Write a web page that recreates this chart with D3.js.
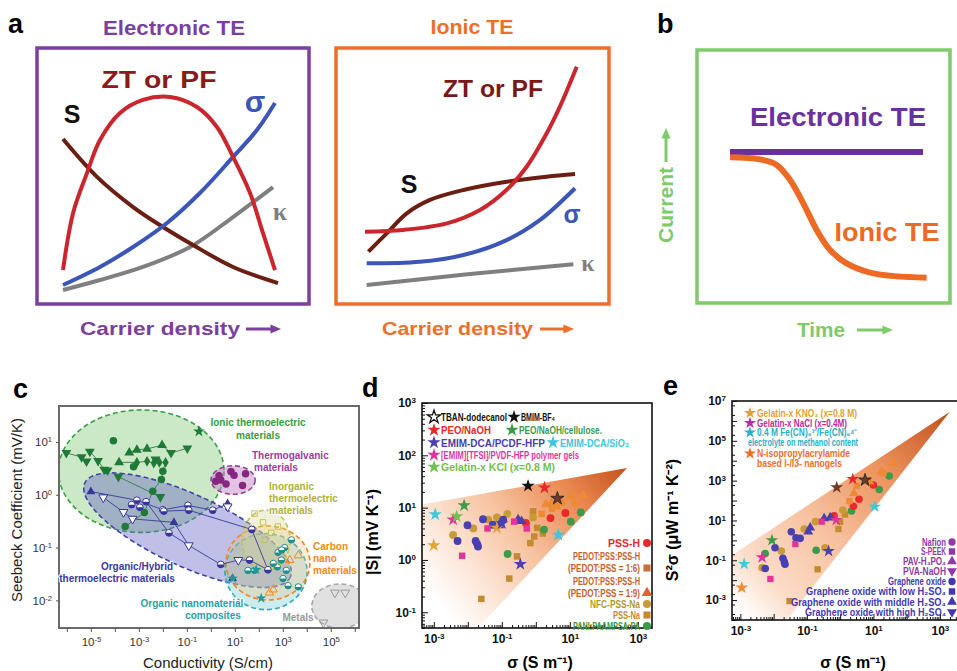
<!DOCTYPE html>
<html>
<head>
<meta charset="utf-8">
<title>Electronic vs ionic thermoelectrics</title>
<script src="https://cdn.jsdelivr.net/npm/d3@7/dist/d3.min.js"></script>
<style>
  body { margin: 0; background: #fff; }
  svg { font-family: "Liberation Sans", Arial, sans-serif; display: block; }
</style>
</head>
<body>
<svg id="fig" width="957" height="671"></svg>
<script>
// ================= data =================
// a: schematic trends against carrier density (box units 0-10)
let aElecZT = [[0,1.04],[0.47,4.01],[1.12,6.1],[1.72,7.81],[2.65,9.22],[3.72,9.9],[4.98,10.05],[6.23,9.53],[7.16,8.49],[7.91,6.93],[8.7,5.05],[9.3,2.97],[9.86,1.04]];
let aElecS = [[0,7.86],[1.58,5.89],[3.26,4.32],[4.65,3.28],[6.05,2.34],[7.91,1.2],[10,0.36]];
let aElecSigma = [[0,0.26],[1.72,1.2],[3.26,2.24],[4.84,3.49],[6.37,5.05],[7.91,6.93],[9.02,8.33],[9.86,9.74]];
let aElecKappa = [[0,0],[1.72,0.52],[3.72,1.2],[5.91,2.24],[7.91,3.8],[9.77,5.36]];
let aIonZT = [[0,3.04],[1.8,3.13],[3.84,3.47],[5.4,4.17],[6.64,5.21],[7.59,6.42],[8.53,8.16],[9.15,9.55],[9.94,11.63]];
let aIonS = [[0.16,2.0],[1.02,2.95],[1.96,3.99],[3.05,4.69],[4.62,5.21],[6.65,5.64],[8.53,5.9],[9.86,6.04]];
let aIonSigma = [[0.08,1.39],[2.58,1.47],[4.62,1.82],[6.65,2.6],[8.22,3.65],[9.86,5.3]];
let aIonKappa = [[0.08,0.26],[4.93,0.83],[9.78,1.34]];

// b: current against time (box units 0-10)
let bElec = [[0,9.85],[9.8,9.85]];
let bIon = [[0,9.44],[1.52,9.28],[2.37,8.85],[3.05,7.69],[3.72,5.9],[4.4,3.85],[5.08,2.31],[5.92,1.28],[7.28,0.51],[9.98,0.18]];

// c: Seebeck coefficient (mV/K) against conductivity (S/cm)
let cIonicDown = [[9.5e-7,6.2],[4.1e-6,5.2],[6.6e-6,4.3],[9.1e-6,6.6],[2e-5,4.4],[3.6e-5,3.0],[5e-5,2.9],[1.4e-4,2.2],[4.9e-3,4.7],[0.022,6.2],[0.105,7.6],[7.9e-3,0.91]];
let cIonicUp = [[1.5e-4,4.1],[4e-4,6.3],[8.3e-4,7.1],[2.2e-3,7.4],[9.3e-3,8.7]];
let cIonicDiamond = [[8.3e-4,4.1],[2.2e-3,4.3],[4.2e-3,4.0],[7.2e-3,4.1],[0.013,4.1]];
let cIonicCircle = [[8.7e-5,10.5],[6e-4,3.4],[0.01,2.8],[8.7e-3,1.95],[3.8e-3,1.17],[1.7e-3,0.46],[2.7e-4,0.25]];
let cIonicStar = [[0.32,15.8]];
let cIonicTraces = [
  [[9.5e-7,6.2],[4.1e-6,5.2],[6.6e-6,4.3]],
  [[9.1e-6,6.6],[2e-5,4.4],[3.6e-5,3.0],[5e-5,2.9]],
  [[4e-4,6.3],[8.3e-4,7.1],[2.2e-3,7.4],[9.3e-3,8.7],[0.022,6.2],[0.105,7.6]],
  [[1.5e-4,4.1],[8.3e-4,4.1],[2.2e-3,4.3],[4.2e-3,4.0],[7.2e-3,4.1],[0.013,4.1]],
  [[0.013,4.1],[0.01,2.8],[8.7e-3,1.95],[3.8e-3,1.17],[1.7e-3,0.46],[2.7e-4,0.25]],
  [[1.4e-4,2.2],[7.9e-3,0.91]]
];
let cOrganicUp = [[1e-5,1.15],[0.029,0.3],[5,0.68],[8.1,0.026]];
let cOrganicDown = [[3.3e-5,0.89],[2.3e-4,0.47],[5.5e-4,0.35],[0.12,0.11],[14,0.058],[5,0.6]];
let cOrganicCircle = [[8.3e-4,0.79],[2e-3,0.74],[0.01,0.52],[0.11,0.63],[0.011,0.49],[0.12,0.51],[1.2,0.51],[2.6,0.048],[41,0.058],[240,0.038],[0.018,0.19],[51,0.22],[5e-4,0.65],[1.1e-3,0.58]];
let cOrganicTraces = [
  [[1e-5,1.15],[8.3e-4,0.79],[0.01,0.52],[0.11,0.63],[1.2,0.51],[5,0.68]],
  [[3.3e-5,0.89],[2.3e-4,0.47],[5.5e-4,0.35],[0.029,0.3],[0.12,0.11]],
  [[2e-3,0.74],[0.018,0.19],[0.12,0.11],[2.6,0.048],[14,0.058],[41,0.058],[240,0.038]],
  [[0.011,0.49],[0.12,0.51],[51,0.22],[240,0.038]]
];
let cGalvanic = [[2.6,1.9],[6.9,2.75],[9.3,2.35],[28,2.5],[21,1.5],[4.3,1.6],[1.6,1.8],[2.2,2.3]];
let cInorganic = [[66,0.44],[150,0.30],[330,0.19],[175,0.14],[630,0.25]];
let cCarbon = [[4400,0.071],[1950,0.058],[280,0.014],[400,0.016]];
let cComposite = [[630,0.081],[870,0.058],[590,0.043],[1400,0.037],[1020,0.026],[1660,0.019],[4400,0.018],[2300,0.14],[1200,0.10],[35,0.037],[66,0.037],[400,0.05],[900,0.09]];
let cCompositeStar = [[8.1,0.026],[126,0.011],[78,0.038]];
let cMetals = [[1.5e5,0.014],[4e5,0.014],[4.9e4,0.0038]];
// regions: centre [S/cm, mV/K], half widths in decades, tilt in degrees
let cRegionNames = ["ionic","organic","galvanic","composite","carbon","inorganic","metals"];
let cRegionCentre = [[1.26e-3,2.8],[0.107,0.214],[8.5,1.9],[200,0.035],[240,0.051],[200,0.138],[2.4e5,0.0078]];
let cRegionHalf = [[3.45,1.16],[4.71,0.68],[0.92,0.27],[1.71,0.72],[1.75,0.70],[1.0,0.57],[1.17,0.42]];
let cRegionTilt = [0,24.6,0,0,0,0,0];
let cXExp = d3.range(-6, 7), cXLabel = [-5,-3,-1,1,3,5];
let cYExp = [-2,-1,0,1], cYLabel = [-2,-1,0,1];

// d: |S| (mV/K) against sigma (S/m)
let dTBAN = [[4.3,15]];
let dBMIM = [[0.59,26]];
let dPEO = [[1.8,24]];
let dPEOCell = [[0.0078,11]];
let dEMIMPCDF = [[0.35,0.83],[0.1,5.0]];
let dEMIMSiO2 = [[0.0011,7.4],[4.6,3.0]];
let dEMIMTFSI = [[0.0037,5.9]];
let dGelKCl = [[0.0047,6.8]];
let dGelKNO3 = [[0.001,1.9],[0.072,4.1]];
let dPSSH = [[0.51,5.1],[2.7,6.3],[7.4,7.9]];
let dPEDOT16 = [[1.5,7.6],[5.8,12.3],[14,12.3],[3.0,9.5]];
let dPEDOT19 = [[2.0,11.5],[2.9,12.3],[11,16.6],[25,17],[4.1,10.5]];
let dNFC = [[0.0145,4.0],[0.04,5.9],[0.072,6.5],[0.145,7.6],[0.83,6.5],[0.0037,3.0]];
let dPSSNa = [[0.83,8.5],[1.1,4.1],[1.6,3.2],[0.9,2.8],[0.69,2.1],[0.28,1.17],[0.166,0.44],[0.025,0.18]];
let dPANI = [[21,8.1],[10.7,5.4],[1.74,3.8],[0.148,1.3]];
let dGO = [[0.0098,4.6],[0.028,6.0],[0.054,4.7],[0.11,5.9],[0.005,2.3],[0.017,2.3],[0.019,2.0],[0.02,1.8]];
let dGOMid = [[0.083,4.6],[0.3,5.9],[0.38,5.5]];
let dSPEEK = [[0.038,4.0],[0.23,5.4],[0.54,4.0],[0.0068,1.2]];
let dFan = [[4.5e-4,11.5],[480,57],[0.02,0.05],[4.5e-4,0.05]];
let dXExp = [-3,-2,-1,0,1,2,3], dXLabel = [-3,-1,1,3];
let dYExp = [-1,0,1,2,3], dYLabel = [-1,0,1,2,3];

// e: S^2 sigma (uW m-1 K-2) against sigma (S/m)
let ePEDOT19 = [[38,7900],[7.6,890],[2.6,230],[18,2800]];
let ePEDOT16 = [[3.2,540],[1.9,93],[20,2400]];
let ePANI = [[30,1700],[15,360],[2.2,30],[0.19,0.32],[0.0056,0.22]];
let ePEO = [[2.4,1200]];
let eTBAN = [[5.6,1070]];
let eBMIM = [[0.79,460]];
let ePSSH = [[10,600],[3.7,115],[2.5,52],[0.66,17]];
let eNFC = [[1.2,33],[0.18,8.7],[0.083,3.7],[0.017,0.29],[0.0045,0.042],[0.35,0.43]];
let ePSSNa = [[1.4,20],[1.0,8.7],[0.89,3.7],[0.21,0.035],[0.03,0.00089]];
let eGOMid = [[0.33,12.6],[0.5,14],[0.126,4.3],[0.11,2.7]];
let eEMIMTFSI = [[0.76,10.5],[0.0045,0.14]];
let eSPEEK = [[0.28,8.7],[0.045,0.65],[0.008,0.0115]];
let eGO = [[0.034,2.7],[0.063,1.26],[0.047,1.35],[0.011,0.43],[0.0056,0.039],[0.019,0.126],[0.021,0.085],[0.022,0.063]];
let ePEOCell = [[0.0089,1.02]];
let eEMIMPCDF = [[0.45,0.29]];
let eEMIMSiO2 = [[0.0013,0.065],[11,49]];
let eGelKNO3 = [[0.0011,0.0042]];
let eFan = [[5.6e-4,0.18],[2000,2.9e6],[0.025,1e-4],[5.6e-4,1e-4]];
let eXExp = [-3,-2,-1,0,1,2,3], eXLabel = [-3,-1,1,3];
let eYExp = d3.range(-4, 8), eYLabel = [-3,-1,1,3,5,7];

// legends
let dLegendTop = [
  [["TBAN-dodecanol","open"],["BMIM-BF₄","black"]],
  [["PEO/NaOH","red"],["PEO/NaOH/cellulose.","green"]],
  [["EMIM-DCA/PCDF-HFP","blue"],["EMIM-DCA/SiO₂","cyan"]],
  [["[EMIM][TFSI]/PVDF-HFP polymer gels","magenta"]],
  [["Gelatin-x KCl (x=0.8 M)","lime"]]
];
let dLegendRight = ["PSS-H","PEDOT:PSS:PSS-H","(PEDOT:PSS = 1:6)","PEDOT:PSS:PSS-H","(PEDOT:PSS = 1:9)","NFC-PSS-Na","PSS-Na","PANI:PAAMPSA:PA"];
let eLegendTop = ["Gelatin-x KNO₃ (x=0.8 M)","Gelatin-x NaCl (x=0.4M)","0.4 M Fe(CN)₆³⁻/Fe(CN)₆⁴⁻","electrolyte on methanol content","N-isopropylacrylamide","based I-/I3- nanogels"];
let eLegendRight = ["Nafion","S-PEEK","PAV-H₃PO₄","PVA-NaOH","Graphene oxide","Graphene oxide with low H₂SO₄","Graphene oxide with middle H₂SO₄","Graphene oxide with high H₂SO₄"];

// ================= colours =================
let col = {
  purple: "#7b3f9e", orange: "#ec6f2b", green: "#7fca6b",
  zt: "#c9272d", s: "#6b1e12", sigma: "#3b56b8", kappa: "#7f7f7f",
  red: "#e8282a", pedot: "#ee8a34", pedotText: "#c8622c", olive: "#c99b38", oliveSq: "#c48a30",
  pani: "#3d9a4a", go: "#4a3fb0", goText: "#4338b0", naf: "#8e3aa8", magenta: "#e0359a",
  cyan: "#42c6dc", lime: "#72c04e", black: "#111", brownStar: "#6b3a2a", gold: "#e2a232"
};

let svg = d3.select("#fig");
let defs = svg.append("defs");

function addText(g, x, y, str, o) {
  let t = g.append("text").attr("x", x).attr("y", y).text(str)
    .attr("font-size", o.size || 12)
    .attr("font-weight", o.weight || "bold")
    .attr("fill", o.color || "#000")
    .attr("text-anchor", o.anchor || "start");
  if (o.family) t.attr("font-family", o.family);
  if (o.len) t.attr("textLength", o.len).attr("lengthAdjust", "spacingAndGlyphs");
  if (o.rotate) t.attr("transform", `rotate(${o.rotate},${x},${y})`);
  if (o.halo) t.attr("stroke", "#fff").attr("stroke-width", 2.2).attr("paint-order", "stroke").attr("stroke-linejoin", "round");
  return t;
}

function arrow(g, x1, y1, x2, y2, color) {
  let ang = Math.atan2(y2 - y1, x2 - x1);
  g.append("line")
    .attr("x1", x1).attr("y1", y1)
    .attr("x2", x2 - 6 * Math.cos(ang)).attr("y2", y2 - 6 * Math.sin(ang))
    .attr("stroke", color).attr("stroke-width", 3);
  g.append("path")
    .attr("d", d3.symbol(d3.symbolTriangle, 45)())
    .attr("transform", `translate(${x2 - 4 * Math.cos(ang)},${y2 - 4 * Math.sin(ang)}) rotate(${ang * 180 / Math.PI + 90}) scale(0.9,1.2)`)
    .attr("fill", color);
}

function schematicLine(x0, x1, y0, y1) {
  let x = d3.scaleLinear().domain([0, 10]).range([x0, x1]);
  let y = d3.scaleLinear().domain([0, 10]).range([y0, y1]);
  return d3.line().x(d => x(d[0])).y(d => y(d[1])).curve(d3.curveCatmullRom.alpha(0.5));
}

let shapes = { circle: d3.symbolCircle, square: d3.symbolSquare, up: d3.symbolTriangle, down: d3.symbolTriangle, star: d3.symbolStar, diamond: d3.symbolDiamond };

function marks(g, data, x, y, shape, size, fill, stroke, sw) {
  g.append("g").selectAll("path").data(data).enter().append("path")
    .attr("d", d3.symbol(shapes[shape], size))
    .attr("transform", d => `translate(${x(d[0])},${y(d[1])})` + (shape === "down" ? " rotate(180)" : ""))
    .attr("fill", fill)
    .attr("stroke", stroke || "none")
    .attr("stroke-width", sw || 0);
}

function halfCircles(g, data, x, y, r, color) {
  let half = d3.arc().innerRadius(0).outerRadius(r).startAngle(Math.PI / 2).endAngle(3 * Math.PI / 2);
  let m = g.append("g").selectAll("g").data(data).enter().append("g")
    .attr("transform", d => `translate(${x(d[0])},${y(d[1])})`);
  m.append("circle").attr("r", r).attr("fill", "#fff").attr("stroke", color).attr("stroke-width", 1);
  m.append("path").attr("d", half()).attr("fill", color);
}

function logAxis(parent, orient, scale, pos, o) {
  let make = orient === "bottom" ? d3.axisBottom : d3.axisLeft;
  let g = parent.append("g")
    .attr("transform", orient === "bottom" ? `translate(0,${pos})` : `translate(${pos},0)`)
    .attr("color", o.color);
  if (o.minor && o.minor.length) {
    g.append("g")
      .call(make(scale).tickValues(o.minor).tickSize(o.minorLen).tickFormat(""))
      .call(s => s.select(".domain").remove());
  }
  let m = g.append("g")
    .call(make(scale).tickValues(o.exps.map(e => Math.pow(10, e))).tickSize(o.len).tickPadding(o.pad).tickFormat(() => "10"))
    .attr("font-family", "'Liberation Sans', Arial, sans-serif")
    .attr("font-size", o.size)
    .attr("font-weight", o.weight);
  m.select(".domain").remove();
  m.selectAll(".tick line").attr("stroke-width", o.tickWidth || 1);
  m.selectAll(".tick text").attr("fill", o.textColor).each(function (d) {
    let e = Math.round(Math.log10(d));
    let t = d3.select(this);
    if (!o.labels.includes(e)) { t.remove(); return; }
    t.append("tspan").attr("dy", "-0.5em").attr("font-size", o.supSize).text(e < 0 ? "-" + (-e) : String(e));
  });
}

function minorTicks(lo, hi) {
  let out = [];
  d3.range(lo, hi).forEach(k => d3.range(2, 10).forEach(m => out.push(m * Math.pow(10, k))));
  return out;
}

// ================= panel a =================
let pa = svg.append("g");
addText(pa, 8, 33, "a", { size: 27 });

pa.append("rect").attr("x", 37).attr("y", 48).attr("width", 272).attr("height", 256)
  .attr("fill", "none").attr("stroke", col.purple).attr("stroke-width", 3.5);
addText(pa, 174, 35, "Electronic TE", { size: 20, color: col.purple, anchor: "middle", len: 142 });
let lineE = schematicLine(63, 278, 290, 98);
[[aElecKappa, col.kappa], [aElecS, col.s], [aElecSigma, col.sigma], [aElecZT, col.zt]].forEach(([d, c]) => {
  pa.append("path").attr("d", lineE(d)).attr("fill", "none").attr("stroke", c).attr("stroke-width", 4);
});
addText(pa, 159, 88, "ZT or PF", { size: 23, color: "#8b1a1a", anchor: "middle", len: 115 });
addText(pa, 72, 123, "S", { size: 25, color: "#111", anchor: "middle" });
addText(pa, 255, 112, "σ", { size: 30, color: col.sigma, anchor: "middle" });
addText(pa, 280, 220, "κ", { size: 26, color: col.kappa, anchor: "middle", family: "'Liberation Serif', serif" });
addText(pa, 80, 335, "Carrier density", { size: 19, color: col.purple, len: 160 });
arrow(pa, 246, 329, 278, 329, col.purple);

pa.append("rect").attr("x", 336).attr("y", 48).attr("width", 273).attr("height", 256)
  .attr("fill", "none").attr("stroke", col.orange).attr("stroke-width", 3.5);
addText(pa, 472, 34, "Ionic TE", { size: 20, color: col.orange, anchor: "middle", len: 83 });
let lineI = schematicLine(365, 578, 290, 98);
[[aIonKappa, col.kappa], [aIonSigma, col.sigma], [aIonS, col.s], [aIonZT, col.zt]].forEach(([d, c]) => {
  pa.append("path").attr("d", lineI(d)).attr("fill", "none").attr("stroke", c).attr("stroke-width", 4);
});
addText(pa, 493, 97, "ZT or PF", { size: 23, color: "#7a1818", anchor: "middle", len: 100 });
addText(pa, 409, 193, "S", { size: 25, color: "#111", anchor: "middle" });
addText(pa, 572, 223, "σ", { size: 25, color: col.sigma, anchor: "middle" });
addText(pa, 588, 271, "κ", { size: 24, color: col.kappa, anchor: "middle", family: "'Liberation Serif', serif" });
addText(pa, 382, 335, "Carrier density", { size: 19, color: col.orange, len: 151 });
arrow(pa, 540, 329, 571, 329, col.orange);

// ================= panel b =================
let pb = svg.append("g");
addText(pb, 657, 33, "b", { size: 27 });
pb.append("rect").attr("x", 697).attr("y", 50).attr("width", 253).attr("height", 253)
  .attr("fill", "none").attr("stroke", col.green).attr("stroke-width", 3.5);
let lineB = schematicLine(730, 927, 280, 150);
pb.append("path").attr("d", lineB(bElec)).attr("fill", "none").attr("stroke", "#6b2fa0").attr("stroke-width", 6);
pb.append("path").attr("d", lineB(bIon)).attr("fill", "none").attr("stroke", "#ec6a24").attr("stroke-width", 6);
addText(pb, 838, 126, "Electronic TE", { size: 26, color: "#6b2fa0", anchor: "middle", len: 176 });
addText(pb, 887, 241, "Ionic TE", { size: 26, color: "#ec6a24", anchor: "middle", len: 105 });
addText(pb, 673, 243, "Current", { size: 20, color: col.green, rotate: -90, len: 76 });
arrow(pb, 666, 162, 666, 131, col.green);
addText(pb, 797, 337, "Time", { size: 20, color: col.green, len: 48 });
arrow(pb, 857, 330, 890, 330, col.green);

// ================= panel c =================
let pc = svg.append("g");
let cX = d3.scaleLog().domain([4.7e-7, 1.5e6]).range([59, 359]);
let cY = d3.scaleLog().domain([0.003, 48]).range([628, 406]);
defs.append("clipPath").attr("id", "clipC").append("rect").attr("x", 59).attr("y", 406).attr("width", 300).attr("height", 222);
addText(pc, 13, 398, "c", { size: 27 });

let cFill = ["rgba(140,205,130,0.45)","rgba(95,95,195,0.4)","rgba(195,135,200,0.5)","rgba(110,200,210,0.35)","rgba(245,190,120,0.3)","rgba(215,215,140,0.35)","rgba(200,200,200,0.55)"];
let cStroke = ["#3f9f46","#4444a6","#9b3e9b","#2eaab0","#f08a20","#c2c25a","#a8a8a8"];
let regions = pc.append("g").attr("clip-path", "url(#clipC)");
cRegionNames.forEach((name, i) => {
  let [x0, y0] = cRegionCentre[i];
  let cx = cX(x0), cy = cY(y0);
  let rx = cX(x0 * Math.pow(10, cRegionHalf[i][0])) - cx;
  let ry = cy - cY(y0 * Math.pow(10, cRegionHalf[i][1]));
  regions.append("ellipse").attr("class", "region-" + name)
    .attr("cx", cx).attr("cy", cy).attr("rx", rx).attr("ry", ry)
    .attr("transform", `rotate(${cRegionTilt[i]},${cx},${cy})`)
    .attr("fill", cFill[i]).attr("stroke", cStroke[i])
    .attr("stroke-width", 1.6).attr("stroke-dasharray", "5,3");
});

let cLine = d3.line().x(d => cX(d[0])).y(d => cY(d[1]));
let cMarks = pc.append("g").attr("clip-path", "url(#clipC)");
cIonicTraces.forEach(t => cMarks.append("path").attr("d", cLine(t)).attr("fill", "none").attr("stroke", "#2f7f45").attr("stroke-width", 0.9));
cOrganicTraces.forEach(t => cMarks.append("path").attr("d", cLine(t)).attr("fill", "none").attr("stroke", "#3a3a9a").attr("stroke-width", 0.9));
marks(cMarks, cIonicDown, cX, cY, "down", 42, "#1f7a3a");
marks(cMarks, cIonicUp, cX, cY, "up", 42, "#1f7a3a");
marks(cMarks, cIonicDiamond, cX, cY, "diamond", 34, "#1f7a3a");
marks(cMarks, cIonicCircle, cX, cY, "circle", 44, "#1f7a3a");
marks(cMarks, cIonicStar, cX, cY, "star", 42, "#1f7a3a");
marks(cMarks, cOrganicUp, cX, cY, "up", 34, "#35359a");
marks(cMarks, cOrganicDown, cX, cY, "down", 34, "#fff", "#35359a", 1);
halfCircles(cMarks, cOrganicCircle, cX, cY, 3.4, "#35359a");
marks(cMarks, cGalvanic, cX, cY, "circle", 44, "#86267f");
marks(cMarks, cInorganic, cX, cY, "square", 30, "none", "#c2c25a", 1);
marks(cMarks, cCarbon, cX, cY, "up", 30, "none", "#f08a20", 1);
halfCircles(cMarks, cComposite, cX, cY, 3.2, "#1f8f8a");
marks(cMarks, cCompositeStar, cX, cY, "star", 35, "#1f9a9a");
marks(cMarks, cMetals, cX, cY, "down", 34, "none", "#999", 1);

pc.append("rect").attr("x", 59).attr("y", 406).attr("width", 300).attr("height", 222)
  .attr("fill", "none").attr("stroke", "#6a6a6a").attr("stroke-width", 2);
logAxis(pc, "bottom", cX, 628, { exps: cXExp, labels: cXLabel, len: 4, pad: 6, size: 11.5, weight: "normal", supSize: 7.5, color: "#555", textColor: "#333" });
logAxis(pc, "left", cY, 59, { exps: cYExp, labels: cYLabel, len: 3, pad: 4, size: 11.5, weight: "normal", supSize: 7.5, color: "#555", textColor: "#333" });
addText(pc, 22, 510, "Seebeck Coefficient (mV/K)", { size: 15, weight: "normal", color: "#222", anchor: "middle", rotate: -90 });
addText(pc, 208, 668, "Conductivity (S/cm)", { size: 15, weight: "normal", color: "#222", anchor: "middle" });

let cl = { size: 10, weight: "bold", halo: true };
addText(pc, 258, 426, "Ionic thermoelectric", { ...cl, color: "#34a040", anchor: "middle" });
addText(pc, 258, 439, "materials", { ...cl, color: "#34a040", anchor: "middle" });
addText(pc, 252, 459, "Thermogalvanic", { ...cl, color: "#9b3e9b" });
addText(pc, 254, 471, "materials", { ...cl, color: "#9b3e9b" });
addText(pc, 269, 490, "Inorganic", { ...cl, color: "#b2b040" });
addText(pc, 269, 502, "thermoelectric", { ...cl, color: "#b2b040" });
addText(pc, 269, 514, "materials", { ...cl, color: "#b2b040" });
addText(pc, 313, 550, "Carbon", { ...cl, color: "#f08a20" });
addText(pc, 313, 562, "nano", { ...cl, color: "#f08a20" });
addText(pc, 313, 574, "materials", { ...cl, color: "#f08a20" });
addText(pc, 137, 570, "Organic/Hybrid", { ...cl, color: "#3a3a9a", anchor: "middle" });
addText(pc, 117, 582, "thermoelectric materials", { ...cl, color: "#3a3a9a", anchor: "middle" });
addText(pc, 192, 607, "Organic nanomaterial", { ...cl, color: "#2aa0a8", anchor: "middle" });
addText(pc, 213, 619, "composites", { ...cl, color: "#2aa0a8", anchor: "middle" });
addText(pc, 298, 621, "Metals", { ...cl, color: "#999", anchor: "middle" });

// ================= panel d =================
let pd = svg.append("g");
let dX = d3.scaleLog().domain([4.5e-4, 2600]).range([422, 652]);
let dY = d3.scaleLog().domain([0.05, 1000]).range([628, 403]);
defs.append("clipPath").attr("id", "clipD").append("rect").attr("x", 422).attr("y", 403).attr("width", 230).attr("height", 225);
let gradD = defs.append("linearGradient").attr("id", "fanD").attr("gradientUnits", "userSpaceOnUse")
  .attr("x1", dX(dFan[1][0])).attr("y1", dY(dFan[1][1])).attr("x2", 445).attr("y2", 612);
[[0, "#c4521b"], [0.25, "#e9884f"], [0.55, "#f7c4a2"], [0.8, "#fde6d8"], [1, "#ffffff"]].forEach(s => gradD.append("stop").attr("offset", s[0]).attr("stop-color", s[1]));
addText(pd, 362, 397, "d", { size: 27 });

let dPlot = pd.append("g").attr("clip-path", "url(#clipD)");
dPlot.append("path").attr("d", d3.line().x(d => dX(d[0])).y(d => dY(d[1]))(dFan) + "Z").attr("fill", "url(#fanD)");
marks(dPlot, dPSSNa, dX, dY, "square", 42, col.oliveSq);
marks(dPlot, dNFC, dX, dY, "circle", 48, col.olive);
marks(dPlot, dPANI, dX, dY, "circle", 48, col.pani);
marks(dPlot, dPSSH, dX, dY, "circle", 48, col.red);
marks(dPlot, dPEDOT16, dX, dY, "square", 42, col.pedot);
marks(dPlot, dPEDOT19, dX, dY, "up", 44, col.pedot);
marks(dPlot, dGO, dX, dY, "circle", 48, col.go);
marks(dPlot, dGOMid, dX, dY, "up", 44, col.go);
marks(dPlot, dSPEEK, dX, dY, "square", 42, col.magenta);
marks(dPlot, dGelKNO3, dX, dY, "star", 55, col.gold);
marks(dPlot, dEMIMPCDF, dX, dY, "star", 55, col.go);
marks(dPlot, dEMIMSiO2, dX, dY, "star", 55, col.cyan);
marks(dPlot, dEMIMTFSI, dX, dY, "star", 55, col.magenta);
marks(dPlot, dGelKCl, dX, dY, "star", 55, col.lime);
marks(dPlot, dPEOCell, dX, dY, "star", 55, col.pani);
marks(dPlot, dPEO, dX, dY, "star", 55, col.red);
marks(dPlot, dBMIM, dX, dY, "star", 55, col.black);
marks(dPlot, dTBAN, dX, dY, "star", 55, col.brownStar, "#222", 0.8);

pd.append("rect").attr("x", 422).attr("y", 403).attr("width", 230).attr("height", 225)
  .attr("fill", "none").attr("stroke", "#111").attr("stroke-width", 1.6);
let dOpts = { len: -6, minorLen: -3, pad: 6, size: 12, weight: "bold", supSize: 8, color: "#111", textColor: "#111" };
logAxis(pd, "bottom", dX, 628, { ...dOpts, exps: dXExp, labels: dXLabel, minor: dX.ticks().filter(v => Math.abs(Math.log10(v) % 1) > 1e-6) });
logAxis(pd, "left", dY, 422, { ...dOpts, exps: dYExp, labels: dYLabel, minor: dY.ticks().filter(v => Math.abs(Math.log10(v) % 1) > 1e-6) });
addText(pd, 378, 532, "|S| (mV K⁻¹)", { size: 16, anchor: "middle", rotate: -90 });
addText(pd, 540, 668, "σ (S m⁻¹)", { size: 16, anchor: "middle" });

// legend (stars) in d
let starCol = { open: "none", black: col.black, red: col.red, green: col.pani, blue: col.go, cyan: col.cyan, magenta: col.magenta, lime: col.lime };
let textCol = { open: col.black, black: col.black, red: col.red, green: col.pani, blue: col.go, cyan: col.cyan, magenta: col.magenta, lime: col.lime };
let dLegX = [[434, 514], [434, 512], [434, 553], [434], [434]];
let dLegLen = [[66, 34], [50, 83], [104, 69], [138], [114]];
let dLegY = [421, 434, 446.5, 459, 471];
dLegendTop.forEach((row, r) => {
  row.forEach(([name, key], k) => {
    let x = dLegX[r][k], y = dLegY[r] - 4;
    pd.append("path").attr("d", d3.symbol(d3.symbolStar, 55)())
      .attr("transform", `translate(${x},${y})`)
      .attr("fill", starCol[key]).attr("stroke", key === "open" ? "#111" : "none").attr("stroke-width", 1.3);
    addText(pd, x + 7, dLegY[r], name, { size: 11, color: textCol[key], len: dLegLen[r][k] });
  });
});
let dRightCol = [col.red, col.pedotText, col.pedotText, col.pedotText, col.pedotText, "#b09a2a", "#c48a30", col.pani];
let dRightMark = [["circle", col.red], null, ["square", "#c8703a"], null, ["up", "#e0622e"], ["circle", col.olive], ["square", col.oliveSq], ["circle", col.pani]];
let dRightLen = [32, 67, 72, 67, 72, 50, 27, 67];
let dRightY = [547, 559.5, 572, 584.5, 597, 608, 619, 630];
dLegendRight.forEach((name, i) => {
  addText(pd, 640, dRightY[i], name, { size: 11, color: dRightCol[i], anchor: "end", len: dRightLen[i] });
  if (dRightMark[i]) {
    pd.append("path").attr("d", d3.symbol(shapes[dRightMark[i][0]], 50)())
      .attr("transform", `translate(647,${dRightY[i] - 4})`).attr("fill", dRightMark[i][1]);
  }
});

// ================= panel e =================
let pe = svg.append("g");
let eX = d3.scaleLog().domain([5.6e-4, 3500]).range([732, 958]);
let eY = d3.scaleLog().domain([1e-4, 1e7]).range([620, 401]);
defs.append("clipPath").attr("id", "clipE").append("rect").attr("x", 732).attr("y", 401).attr("width", 226).attr("height", 219);
let gradE = defs.append("linearGradient").attr("id", "fanE").attr("gradientUnits", "userSpaceOnUse")
  .attr("x1", eX(eFan[1][0])).attr("y1", eY(eFan[1][1])).attr("x2", 745).attr("y2", 615);
[[0, "#c0501c"], [0.3, "#ec915c"], [0.6, "#f7c2a0"], [0.85, "#fcdcc8"], [1, "#ffffff"]].forEach(s => gradE.append("stop").attr("offset", s[0]).attr("stop-color", s[1]));
addText(pe, 663, 395, "e", { size: 27 });

let ePlot = pe.append("g").attr("clip-path", "url(#clipE)");
ePlot.append("path").attr("d", d3.line().x(d => eX(d[0])).y(d => eY(d[1]))(eFan) + "Z").attr("fill", "url(#fanE)");
marks(ePlot, ePSSNa, eX, eY, "square", 40, col.oliveSq);
marks(ePlot, eNFC, eX, eY, "circle", 45, col.olive);
marks(ePlot, ePANI, eX, eY, "circle", 45, col.pani);
marks(ePlot, ePSSH, eX, eY, "circle", 45, col.red);
marks(ePlot, ePEDOT16, eX, eY, "square", 40, col.pedot);
marks(ePlot, ePEDOT19, eX, eY, "up", 42, col.pedot);
marks(ePlot, eGO, eX, eY, "circle", 45, col.go);
marks(ePlot, eGOMid, eX, eY, "up", 42, col.go);
marks(ePlot, eSPEEK, eX, eY, "square", 40, col.magenta);
marks(ePlot, eGelKNO3, eX, eY, "star", 50, col.pedot);
marks(ePlot, eEMIMPCDF, eX, eY, "star", 50, col.go);
marks(ePlot, eEMIMSiO2, eX, eY, "star", 50, col.cyan);
marks(ePlot, eEMIMTFSI, eX, eY, "star", 50, col.magenta);
marks(ePlot, ePEOCell, eX, eY, "star", 50, col.pani);
marks(ePlot, ePEO, eX, eY, "star", 50, col.red);
marks(ePlot, eBMIM, eX, eY, "star", 50, col.brownStar);
marks(ePlot, eTBAN, eX, eY, "star", 50, col.brownStar, "#222", 0.8);

pe.append("rect").attr("x", 732).attr("y", 401).attr("width", 226).attr("height", 219)
  .attr("fill", "none").attr("stroke", "#111").attr("stroke-width", 1.6);
let eOpts = { len: -6, minorLen: -3, pad: 6, size: 12, weight: "bold", supSize: 8, color: "#111", textColor: "#111" };
logAxis(pe, "bottom", eX, 620, { ...eOpts, exps: eXExp, labels: eXLabel, minor: eX.ticks().filter(v => Math.abs(Math.log10(v) % 1) > 1e-6) });
logAxis(pe, "left", eY, 732, { ...eOpts, len: -5, exps: eYExp, labels: eYLabel, minor: minorTicks(-4, 7).filter((v, i) => i % 8 === 0 || i % 8 === 4) });
addText(pe, 678, 520, "S²σ (μW m⁻¹ K⁻²)", { size: 16, anchor: "middle", rotate: -90 });
addText(pe, 853, 668, "σ (S m⁻¹)", { size: 16, anchor: "middle" });

let eTopCol = [col.gold, "#c02a9a", "#2ab0c8", "#2ab0c8", col.orange, col.orange];
let eTopX = [757, 757, 757, 748, 757, 757];
let eTopLen = [100, 90, 100, 110, 93, 85];
let eTopY = [416.5, 426.5, 436, 445.5, 457, 467];
let eTopStar = [col.gold, "#c02a9a", "#2ab0c8", null, col.orange, null];
eLegendTop.forEach((name, i) => {
  addText(pe, eTopX[i], eTopY[i], name, { size: 10, color: eTopCol[i], len: eTopLen[i] });
  if (eTopStar[i]) {
    pe.append("path").attr("d", d3.symbol(d3.symbolStar, 45)())
      .attr("transform", `translate(750,${eTopY[i] - 3.5})`).attr("fill", eTopStar[i]);
  }
});
let eRightShape = ["circle", "square", "up", "down", "circle", "square", "up", "down"];
let eRightLen = [24, 25, 43, 43, 58, 140, 155, 141];
let eRightY = [545.5, 555, 565, 574.5, 585, 595, 605.5, 615.5];
eLegendRight.forEach((name, i) => {
  let c = i < 4 ? col.naf : col.goText;
  addText(pe, 946, eRightY[i], name, { size: 10, color: c, anchor: "end", len: eRightLen[i] });
  pe.append("path").attr("d", d3.symbol(shapes[eRightShape[i]], 42)())
    .attr("transform", `translate(952,${eRightY[i] - 3.5})` + (eRightShape[i] === "down" ? " rotate(180)" : ""))
    .attr("fill", c);
});
</script>
</body>
</html>
